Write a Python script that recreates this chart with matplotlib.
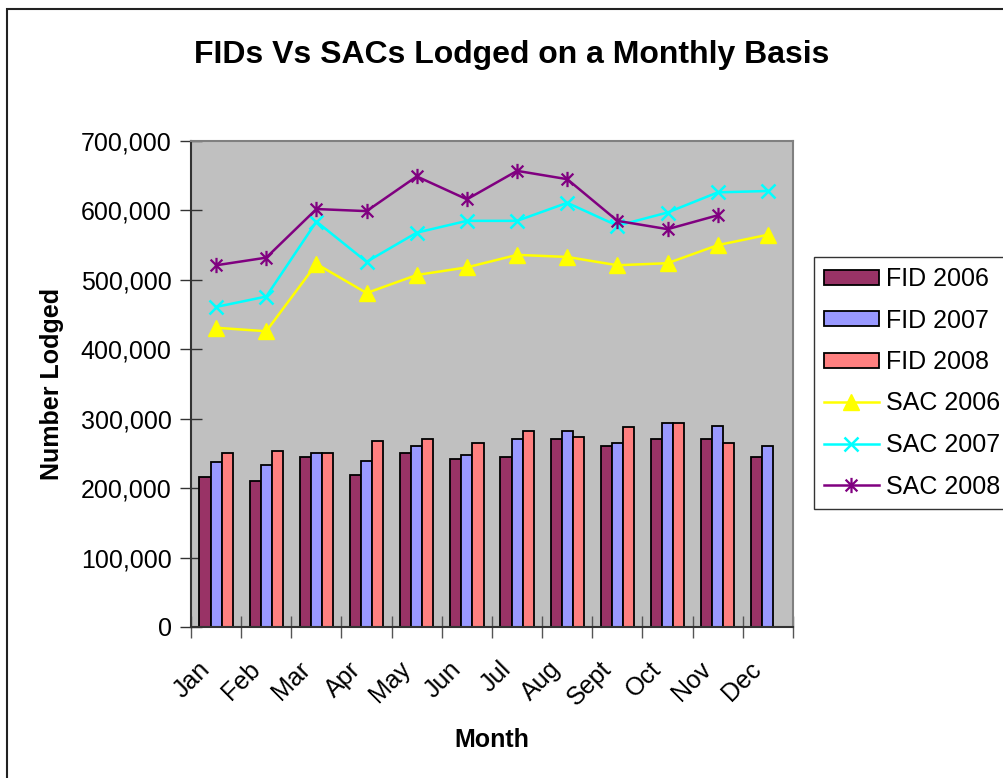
import numpy as np
import matplotlib
matplotlib.use('Agg')
import matplotlib.pyplot as plt
from matplotlib.path import Path
from matplotlib.patches import Rectangle
from matplotlib.ticker import FuncFormatter, MultipleLocator
from matplotlib.transforms import ScaledTranslation

months = ['Jan', 'Feb', 'Mar', 'Apr', 'May', 'Jun',
          'Jul', 'Aug', 'Sept', 'Oct', 'Nov', 'Dec']

# FIDs lodged (bars)
fid_2006 = [216000, 211000, 245000, 219000, 250000, 242000,
            245000, 271000, 260000, 271000, 271000, 245000]
fid_2007 = [237000, 233000, 250000, 239000, 260000, 248000,
            271000, 283000, 265000, 294000, 290000, 260000]
fid_2008 = [250000, 254000, 250000, 268000, 271000, 265000,
            283000, 274000, 288000, 294000, 265000, None]

# SACs lodged (lines)
sac_2006 = [431000, 426000, 523000, 481000, 507000, 518000,
            536000, 533000, 521000, 524000, 550000, 565000]
sac_2007 = [461000, 476000, 584000, 526000, 568000, 585000,
            585000, 611000, 578000, 597000, 626000, 628000]
sac_2008 = [521000, 532000, 602000, 599000, 649000, 616000,
            657000, 645000, 585000, 573000, 593000, None]

plt.rcParams['font.family'] = ['Liberation Sans', 'DejaVu Sans']

W, H = 1004, 778
fig = plt.figure(figsize=(W / 100, H / 100), dpi=100)
ax = fig.add_axes([191 / W, (H - 627) / H, 602 / W, 486 / H])
ax.set_facecolor('#C0C0C0')

x = np.arange(len(months))
bw = 0.222
bar_kw = dict(width=bw, edgecolor='black', linewidth=1.3, zorder=2)


def clean(vals):
    return [np.nan if v is None else v for v in vals]


ax.bar(x - bw, clean(fid_2006), color='#993366', label='FID 2006', **bar_kw)
ax.bar(x, clean(fid_2007), color='#9999FF', label='FID 2007', **bar_kw)
ax.bar(x + bw, clean(fid_2008), color='#FF8080', label='FID 2008', **bar_kw)

# Excel-style asterisk marker
star = Path([(-1, -1), (1, 1), (-1, 1), (1, -1), (0, -1.3), (0, 1.3)],
            [Path.MOVETO, Path.LINETO, Path.MOVETO, Path.LINETO, Path.MOVETO, Path.LINETO])

ax.plot(x, clean(sac_2006), color='#FFFF00', lw=1.8, marker='^', ms=12,
        mec='#FFFF00', label='SAC 2006', zorder=3)
ax.plot(x, clean(sac_2007), color='#00FFFF', lw=1.8, marker='x', ms=10,
        mew=1.8, label='SAC 2007', zorder=3)
ax.plot(x, clean(sac_2008), color='#800080', lw=1.8, marker=star, ms=11,
        mew=1.6, mec='#800080', mfc='none', label='SAC 2008', zorder=3)

ax.set_xlim(-0.5, 11.5)
ax.set_ylim(0, 700000)
ax.yaxis.set_major_locator(MultipleLocator(100000))
ax.yaxis.set_major_formatter(FuncFormatter(lambda v, p: f'{int(v):,}'))

ax.set_xticks(np.arange(-0.5, 12, 1))
ax.set_xticklabels([])
ax.set_xticks(x, minor=True)
ax.set_xticklabels(months, minor=True, rotation=45, ha='right', va='center',
                   rotation_mode='anchor', fontsize=18)
ax.tick_params(axis='x', which='minor', length=0, pad=22)
shift = ScaledTranslation(-10 / 100, -8 / 100, fig.dpi_scale_trans)
for lbl in ax.get_xticklabels(minor=True):
    lbl.set_transform(lbl.get_transform() + shift)
ax.tick_params(axis='x', which='major', direction='inout', length=16, width=1, color='#555555')
ax.tick_params(axis='y', direction='inout', length=16, width=1, color='#333333',
               labelsize=18, pad=6)

for side in ('top', 'right'):
    ax.spines[side].set_color('#808080')
    ax.spines[side].set_linewidth(1.5)
ax.spines['left'].set_color('#333333')
ax.spines['bottom'].set_color('#333333')
ax.spines['left'].set_linewidth(1.5)
ax.spines['bottom'].set_linewidth(1.5)

ax.set_ylabel('Number Lodged', fontsize=18, fontweight='bold', labelpad=12)
ax.set_xlabel('Month', fontsize=18, fontweight='bold', labelpad=13)

fig.text(512 / W, 1 - 55 / H, 'FIDs Vs SACs Lodged on a Monthly Basis',
         ha='center', va='center', fontsize=23, fontweight='bold')

handles, labels = ax.get_legend_handles_labels()
order = [3, 4, 5, 0, 1, 2]
leg = fig.legend([handles[i] for i in order], [labels[i] for i in order],
                 loc='upper left', bbox_to_anchor=(814 / W, 1 - 257 / H),
                 fontsize=18, frameon=True, fancybox=False, edgecolor='black',
                 handlelength=2.2, handleheight=0.55, handletextpad=0.3,
                 labelspacing=0.7, borderpad=0.4, borderaxespad=0)
leg.get_frame().set_linewidth(1.0)

# outer chart border
fig.patches.append(Rectangle((7 / W, -0.1), 2, (H - 9) / H + 0.1,
                             transform=fig.transFigure, fill=False,
                             edgecolor='#222222', linewidth=1.5))

fig.savefig('out.png', dpi=100, facecolor='white')
